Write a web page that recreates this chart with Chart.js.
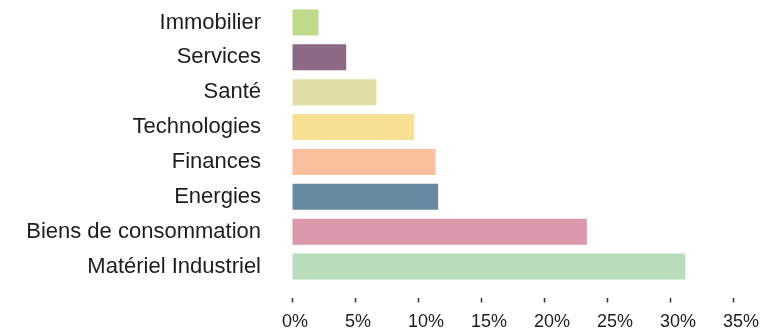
<!DOCTYPE html>
<html lang="fr">
<head>
    <meta charset="UTF-8">
    <title>Répartition sectorielle</title>
    <script src="https://cdn.jsdelivr.net/npm/chart.js"></script>
    <style>
        html, body {
            margin: 0;
            padding: 0;
            background: #ffffff;
        }
        .chart-container {
            width: 773px;
            height: 334px;
            position: relative;
        }
    </style>
</head>
<body>
    <div class="chart-container">
        <canvas id="secteurChart"></canvas>
    </div>

    <script>
        // Secteurs (du haut vers le bas)
        const secteurs = ['Immobilier', 'Services', 'Santé', 'Technologies', 'Finances', 'Energies', 'Biens de consommation', 'Matériel Industriel'];
        // Poids en %
        const poids = [2.1, 4.3, 6.7, 9.7, 11.4, 11.6, 23.4, 31.2];
        const couleurs = ['#bddb88', '#8c6a85', '#e0dea5', '#f8e093', '#fac09e', '#688aa0', '#da98aa', '#b9dcbb'];
        const ticksX = [0, 5, 10, 15, 20, 25, 30, 35];

        const police = "'Liberation Sans', Arial, Helvetica, sans-serif";

        const ctx = document.getElementById('secteurChart').getContext('2d');
        new Chart(ctx, {
            type: 'bar',
            data: {
                labels: secteurs,
                datasets: [{
                    data: poids,
                    backgroundColor: couleurs,
                    borderWidth: 0,
                    categoryPercentage: 1,
                    barPercentage: 0.746
                }]
            },
            options: {
                indexAxis: 'y',
                responsive: true,
                maintainAspectRatio: false,
                animation: false,
                layout: {
                    padding: { top: 5, right: 40, bottom: 0, left: 0 }
                },
                plugins: {
                    legend: { display: false },
                    tooltip: { enabled: false }
                },
                scales: {
                    x: {
                        min: 0,
                        max: 35,
                        afterBuildTicks: function (scale) {
                            scale.ticks = ticksX.map(v => ({ value: v }));
                        },
                        afterFit: function (scale) {
                            scale.height = 50;
                            scale.paddingLeft = 0;
                            scale.paddingRight = 0;
                        },
                        border: { display: false },
                        grid: {
                            drawOnChartArea: false,
                            drawTicks: true,
                            tickLength: 19,
                            tickWidth: 1.5,
                            tickColor: '#333333',
                            tickBorderDash: [0, 14, 4.5, 20]
                        },
                        ticks: {
                            padding: 8,
                            maxRotation: 0,
                            align: 'start',
                            labelOffset: -10,
                            color: '#1d1d1d',
                            font: { family: police, size: 18 },
                            callback: function (value) {
                                return value + '%';
                            }
                        }
                    },
                    y: {
                        afterFit: function (scale) {
                            // largeur fixe et pas de marge verticale ajoutée par les étiquettes
                            scale.width = 292;
                            scale.paddingTop = 0;
                            scale.paddingBottom = 0;
                        },
                        border: { display: false },
                        grid: { display: false, drawTicks: false },
                        ticks: {
                            autoSkip: false,
                            padding: 31,
                            color: '#1d1d1d',
                            font: { family: police, size: 22 }
                        }
                    }
                }
            }
        });
    </script>
</body>
</html>
